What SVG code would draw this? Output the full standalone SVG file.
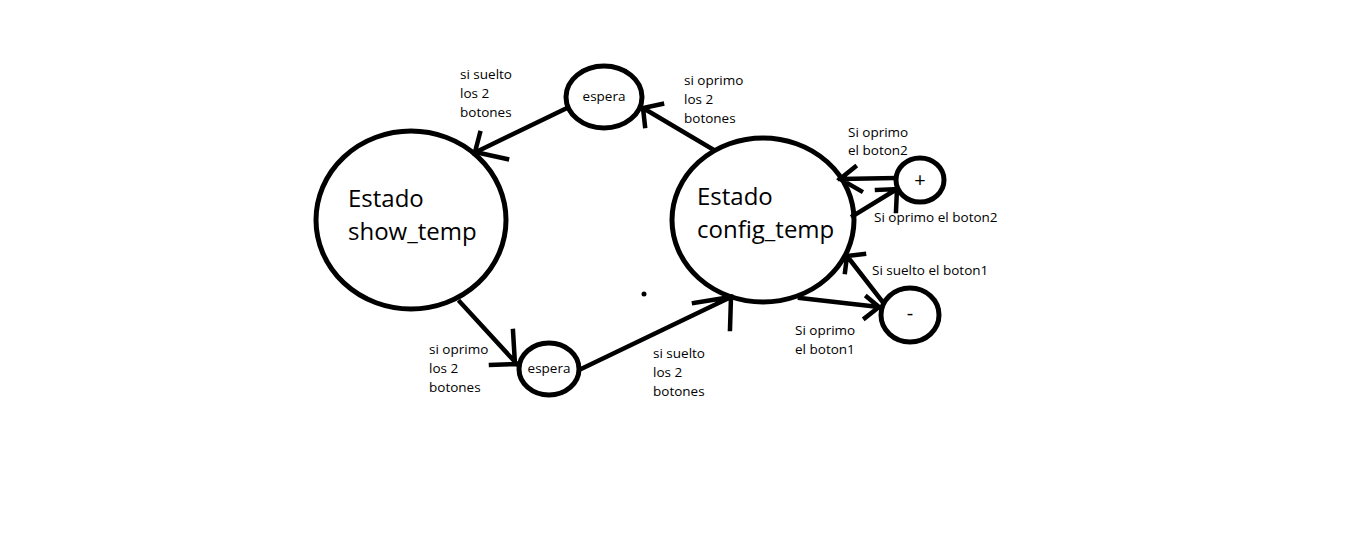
<svg xmlns="http://www.w3.org/2000/svg" width="1358" height="557" viewBox="0 0 1358 557">
<style>
.st{fill:none;stroke:#000;stroke-width:5;}
.ln{fill:none;stroke:#000;stroke-width:4.5;stroke-linecap:square;stroke-linejoin:miter;}
.lb{font-family:"Open Sans","Noto Sans",sans-serif;font-size:13.5px;fill:#000;}
.big{font-family:"Open Sans","Noto Sans",sans-serif;font-size:24px;fill:#000;}
.sym{font-family:"Open Sans","Noto Sans",sans-serif;font-size:20px;fill:#000;text-anchor:middle;}
</style>
<rect width="1358" height="557" fill="#fff"/>
<g id="show_temp">
<ellipse class="st" cx="411" cy="220" rx="95" ry="89"/>
<text class="big" x="348" y="207">Estado</text>
<text class="big" x="348" y="240">show_temp</text>
</g>
<g id="config_temp">
<ellipse class="st" cx="763" cy="220" rx="91" ry="82"/>
<text class="big" x="697" y="205">Estado</text>
<text class="big" x="697" y="238">config_temp</text>
</g>
<g id="espera_top">
<ellipse class="st" cx="604" cy="97" rx="38" ry="31"/>
<text class="lb" x="604" y="101" text-anchor="middle">espera</text>
</g>
<g id="espera_bottom">
<ellipse class="st" cx="549" cy="369" rx="30" ry="26"/>
<text class="lb" x="549" y="373" text-anchor="middle">espera</text>
</g>
<g id="plus">
<ellipse class="st" cx="920" cy="180" rx="24" ry="22"/>
<text class="sym" x="920" y="187">+</text>
</g>
<g id="minus">
<ellipse class="st" cx="910" cy="315" rx="29" ry="27"/>
<text class="sym" x="910" y="320">-</text>
</g>
<g id="connectors">
<path class="ln" d="M565 109 L474 153 M480 133 L475 152 L507 159"/>
<path class="ln" d="M714 150 L643 108 M662 104 L643 108 L645 126"/>
<path class="ln" d="M460 302 L517 364 M513 331 L515 364 L491 365"/>
<path class="ln" d="M581 369 L731 297 M694 303 L731 297 L730 329"/>
<path class="ln" d="M895 178 L840 179 M855 167 L840 179 L861 191"/>
<path class="ln" d="M853 216 L897 189 M877 190 L897 189 L896 211"/>
<path class="ln" d="M882 301 L847 256 M864 254 L847 256 L845 272"/>
<path class="ln" d="M800 298 L879 307 M867 297 L879 307 L865 318"/>
<circle cx="644" cy="294" r="2.5" fill="#000"/>
</g>
<g id="labels">
<text class="lb" x="460" y="79">si suelto</text>
<text class="lb" x="460" y="98">los 2</text>
<text class="lb" x="460" y="117">botones</text>
<text class="lb" x="684" y="85">si oprimo</text>
<text class="lb" x="684" y="104">los 2</text>
<text class="lb" x="684" y="123">botones</text>
<text class="lb" x="848" y="137">Si oprimo</text>
<text class="lb" x="848" y="155">el boton2</text>
<text class="lb" x="874" y="222">Si oprimo el boton2</text>
<text class="lb" x="872" y="275">Si suelto el boton1</text>
<text class="lb" x="795" y="335">Si oprimo</text>
<text class="lb" x="795" y="354">el boton1</text>
<text class="lb" x="429" y="354">si oprimo</text>
<text class="lb" x="429" y="373">los 2</text>
<text class="lb" x="429" y="392">botones</text>
<text class="lb" x="653" y="358">si suelto</text>
<text class="lb" x="653" y="377">los 2</text>
<text class="lb" x="653" y="396">botones</text>
</g>
</svg>
